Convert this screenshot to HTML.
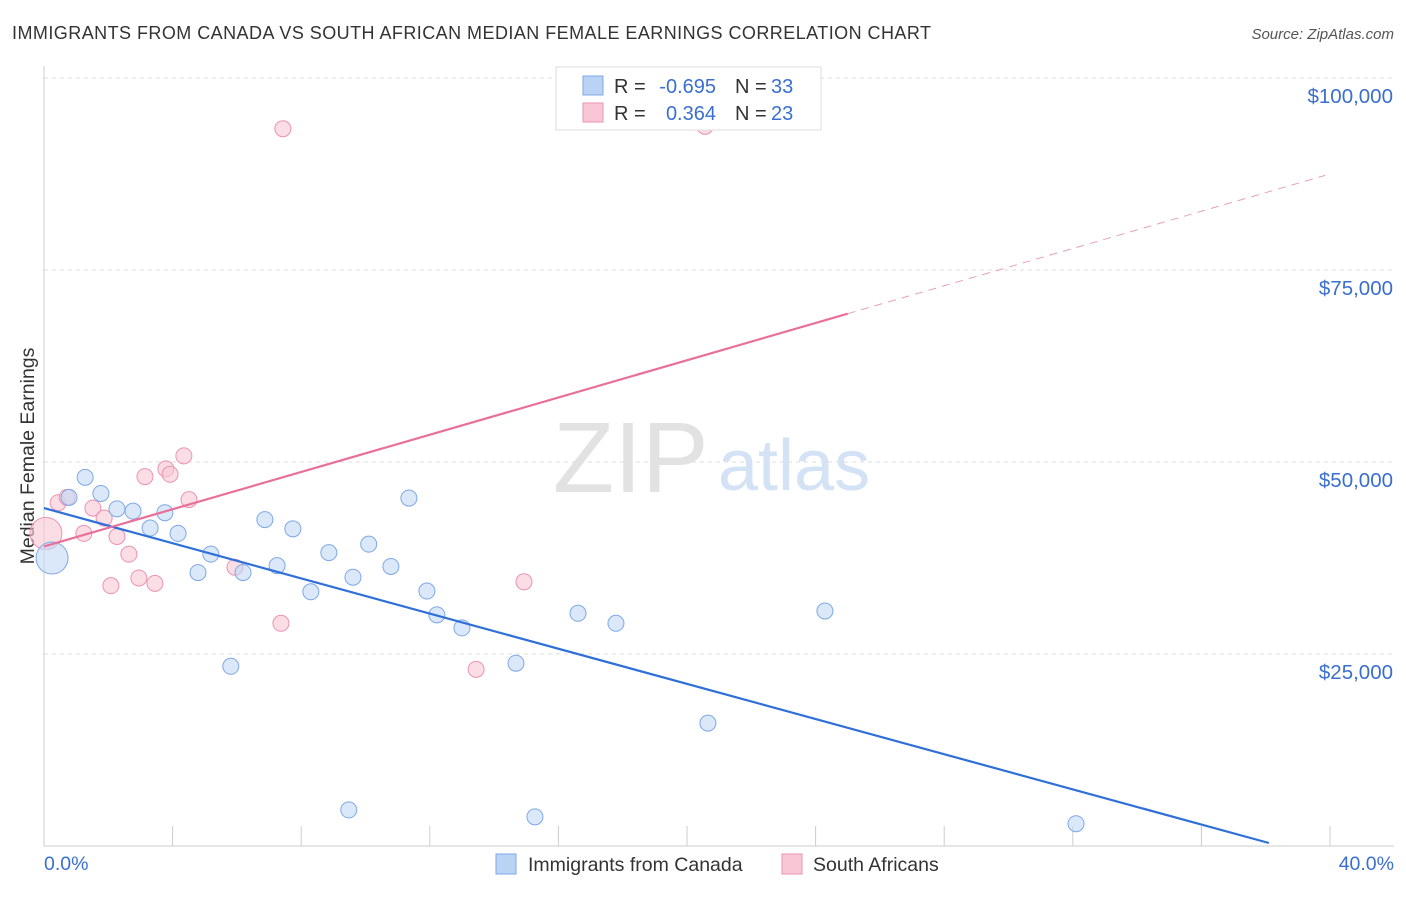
<!DOCTYPE html>
<html><head><meta charset="utf-8"><style>
body{margin:0;background:#fff;font-family:"Liberation Sans",sans-serif;}
svg text{font-family:"Liberation Sans",sans-serif;}
</style></head><body>
<svg id="chart" width="1406" height="892" xmlns="http://www.w3.org/2000/svg">
<text x="12" y="39" font-size="18" fill="#333" textLength="919">IMMIGRANTS FROM CANADA VS SOUTH AFRICAN MEDIAN FEMALE EARNINGS CORRELATION CHART</text>
<text x="1394" y="39" font-size="15" fill="#555" font-style="italic" text-anchor="end">Source: ZipAtlas.com</text>
<text x="34" y="456" font-size="19.5" fill="#333" text-anchor="middle" transform="rotate(-90 34 456)">Median Female Earnings</text>
<g id="grid"></g>
<text x="553" y="492" font-size="100" fill="#e2e2e2" font-family="Liberation Serif">ZIP</text>
<text x="718" y="490" font-size="72" fill="#d4e2f5">atlas</text>
<g id="marks"></g>
<g>
<rect x="556" y="67" width="265" height="63" fill="#fff" stroke="#ddd"/>
<rect x="583" y="76" width="20" height="19" fill="#b9d3f5" stroke="#7ea8e6"/>
<rect x="583" y="103" width="20" height="19" fill="#f9c6d6" stroke="#ec93b0"/>
<text x="614" y="93" font-size="20" fill="#333">R =</text>
<text x="716" y="93" font-size="20" fill="#3a6fd0" text-anchor="end">-0.695</text>
<text x="735" y="93" font-size="20" fill="#333">N =</text>
<text x="771" y="93" font-size="20" fill="#3a6fd0">33</text>
<text x="614" y="120" font-size="20" fill="#333">R =</text>
<text x="716" y="120" font-size="20" fill="#3a6fd0" text-anchor="end">0.364</text>
<text x="735" y="120" font-size="20" fill="#333">N =</text>
<text x="771" y="120" font-size="20" fill="#3a6fd0">23</text>
</g>
<g>
<rect x="496" y="854" width="20" height="20" fill="#b9d3f5" stroke="#7ea8e6"/>
<text x="528" y="871" font-size="19.5" fill="#333">Immigrants from Canada</text>
<rect x="782" y="854" width="20" height="20" fill="#f9c6d6" stroke="#ec93b0"/>
<text x="813" y="871" font-size="19.5" fill="#333">South Africans</text>
</g>
</svg>
<script>
const yTicks=[25000,50000,75000,100000];
const yTickLabels=["$25,000","$50,000","$75,000","$100,000"];
const xTickLabels=["0.0%","40.0%"];
const canadaX=[0.25,0.78,1.28,1.77,2.27,2.77,3.3,3.76,4.17,4.79,5.19,5.81,6.19,6.87,7.25,7.74,8.3,8.86,9.48,9.61,10.1,10.79,11.35,11.91,12.22,13.0,14.68,15.27,16.61,17.79,20.65,24.29,32.1];
const canadaY=[37500,45400,48000,45900,43900,43600,41400,43400,40700,35600,38000,23400,35600,42500,36500,41300,33100,38200,4700,35000,39300,36400,45300,33200,30100,28400,23800,3800,30300,29000,16000,30600,2900];
const saX=[0.06,0.44,0.72,1.24,1.52,1.87,2.08,2.27,2.64,2.95,3.14,3.45,3.79,3.92,4.35,4.51,5.94,7.37,7.43,13.44,14.93,20.56];
const saY=[40700,44700,45400,40700,44000,42700,33900,40300,38000,34900,48100,34200,49100,48400,50800,45100,36300,29000,93400,23000,34400,93700];
const canadaTrend=[44000,-1784];
const saTrend=[39000,87500];
const saSolidEnd=25.0;
const X0=44,XS=(1330-44)/40,Y0=846,YS=192/25000;
const sx=v=>X0+v*XS, sy=v=>Y0-v*YS;
const NS="http://www.w3.org/2000/svg";
function mk(p,t,a){const e=document.createElementNS(NS,t);for(const k in a)e.setAttribute(k,a[k]);p.appendChild(e);return e;}
const grid=document.getElementById('grid'),marks=document.getElementById('marks');
yTicks.forEach((v,i)=>{
 const l=mk(grid,'line',{x1:44,x2:1394,y1:sy(v),y2:sy(v),stroke:'#ddd','stroke-dasharray':'4,4'});
 
 
 const t=mk(grid,'text',{x:1393,y:sy(v)+25,'font-size':20.5,fill:'#3a6fd0','text-anchor':'end'});
 t.textContent=yTickLabels[i];
 
 
});
mk(grid,'line',{x1:44,x2:44,y1:66,y2:846,stroke:'#ccc'});
mk(grid,'line',{x1:44,x2:1394,y1:846,y2:846,stroke:'#ccc'});
for(let i=0;i<=10;i++){const x=sx(i*4);const l=mk(grid,'line',{x1:x,x2:x,y1:826,y2:846,stroke:'#ccc'});
 
 }
[[0,44,'start'],[40,1394,'end']].forEach((d,i)=>{const t=mk(grid,'text',{x:d[1],y:870,'font-size':19.5,fill:'#3a6fd0','text-anchor':d[2]});t.textContent=xTickLabels[i];
 
 });
function dot(x,y,big,fill,stroke,name){const c=mk(marks,'circle',{cx:sx(x),cy:sy(y),r:big?16:8,fill:fill,'fill-opacity':0.6,stroke:stroke,'stroke-width':1});
 
 }
saX.forEach((x,i)=>dot(x,saY[i],i==0,'#f9c6d6','#ec93b0','south-africans-point'));
canadaX.forEach((x,i)=>dot(x,canadaY[i],i==0,'#c2d8f6','#7ea8e6','canada-point'));
const cEnd=38.1;
const cl=mk(marks,'line',{x1:sx(0),y1:sy(canadaTrend[0]),x2:sx(cEnd),y2:sy(canadaTrend[0]+(canadaTrend[1]-canadaTrend[0])*cEnd/40),stroke:'#2f6fd8','stroke-width':2.2});


const sf=v=>saTrend[0]+(saTrend[1]-saTrend[0])*v/40;
const sl=mk(marks,'line',{x1:sx(0),y1:sy(sf(0)),x2:sx(saSolidEnd),y2:sy(sf(saSolidEnd)),stroke:'#e8709a','stroke-width':2.2});


const sd=mk(marks,'line',{x1:sx(saSolidEnd),y1:sy(sf(saSolidEnd)),x2:sx(39.85),y2:sy(sf(39.85)),stroke:'#e8a0b8','stroke-width':1,'stroke-dasharray':'8,6'});


</script>
</body></html>
